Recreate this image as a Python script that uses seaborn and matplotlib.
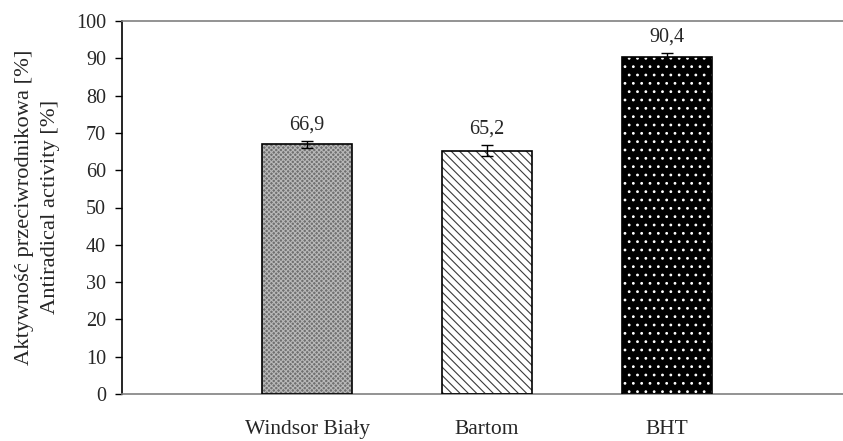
import matplotlib
matplotlib.use("Agg")
import matplotlib.pyplot as plt
from matplotlib.patches import Rectangle
import seaborn as sns

categories = ["Windsor Biały", "Bartom", "BHT"]
values = [66.9, 65.2, 90.4]
errors = [0.9, 1.5, 0.9]
value_labels = ["66,9", "65,2", "90,4"]
y_ticks = [0, 10, 20, 30, 40, 50, 60, 70, 80, 90, 100]

face_colors = ["#707070", "#ffffff", "#000000"]
hatch_colors = ["#b8b8b8", "#3a3a3a", "#ffffff"]
hatches = ["xxxxxxx", "\\\\\\\\", ".."]

sns.set_style("white")
plt.rcParams["font.family"] = ["Liberation Serif", "DejaVu Serif"]
plt.rcParams["hatch.linewidth"] = 0.8

fig = plt.figure(figsize=(8.43, 4.41), dpi=100)
ax = fig.add_axes([122 / 843, 47 / 441, 721 / 843, 373 / 441])

sns.barplot(x=categories, y=values, hue=categories, palette=face_colors,
            width=0.5, legend=False, ax=ax, saturation=1)

for patch, hc, h in zip(ax.patches, hatch_colors, hatches):
    patch.set_hatch(h)
    patch.set_edgecolor(hc)
    patch.set_linewidth(0)
    ax.add_patch(Rectangle((patch.get_x(), patch.get_y()), patch.get_width(),
                           patch.get_height(), fill=False, edgecolor="black",
                           linewidth=1.2, zorder=3))

xs = [p.get_x() + p.get_width() / 2 for p in ax.patches[:len(values)]]
ax.errorbar(xs, values, yerr=errors, fmt="none", ecolor="black",
            elinewidth=1.0, capsize=4.5, capthick=1.0, zorder=4)

for x, v, e, lab in zip(xs, values, errors, value_labels):
    ax.annotate(lab, (x, v + e), xytext=(0, 5), textcoords="offset points",
                ha="center", va="bottom", fontsize=14.5)

ax.set_ylim(0, 100)
ax.set_xlim(-1.028, 2.978)
ax.set_yticks(y_ticks)
ax.tick_params(axis="y", direction="out", length=5, width=1, color="black",
               pad=6.5, labelsize=14.5, left=True)
ax.tick_params(axis="x", length=0, pad=19, labelsize=15.5)
ax.set_xlabel("")
ax.set_ylabel("")

for s in ["top", "bottom"]:
    ax.spines[s].set_color("#808080")
    ax.spines[s].set_linewidth(1.2)
ax.spines["left"].set_color("black")
ax.spines["left"].set_linewidth(1.2)
ax.spines["right"].set_visible(False)

fig.text(37.5 / 843, 1 - 207 / 441,
         "Aktywność przeciwrodnikowa [%]\nAntiradical activity [%]",
         rotation=90, ha="center", va="center", multialignment="center",
         fontsize=16.2, linespacing=1.5)

fig.savefig("out.png", dpi=100)
